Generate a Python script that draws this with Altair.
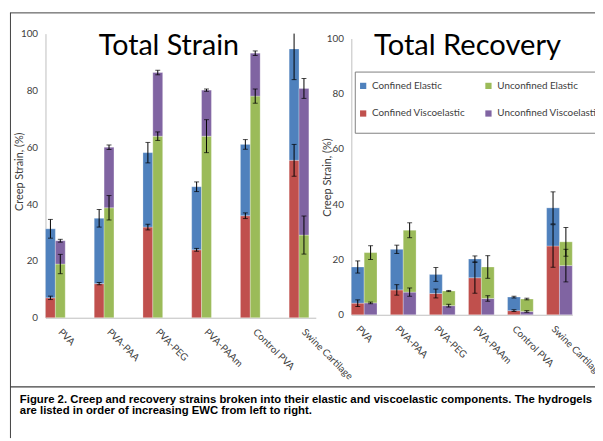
import altair as alt
import pandas as pd

categories = ["PVA", "PVA-PAA", "PVA-PEG", "PVA-PAAm", "Control PVA", "Swine Cartilage"]

# Total Strain panel (cumulative segment tops and error half-widths)
strain_conf_visco = [7.0, 12.0, 31.9, 23.9, 35.9, 55.4]
strain_conf_visco_err = [0.6, 0.4, 1.0, 0.5, 1.0, 5.6]
strain_conf_total = [31.3, 35.0, 58.1, 46.1, 61.0, 94.6]
strain_conf_total_err = [3.3, 3.1, 3.6, 1.7, 1.7, 10.8]
strain_unconf_elastic = [18.9, 38.7, 63.9, 63.9, 78.0, 29.1]
strain_unconf_elastic_err = [3.4, 4.3, 1.5, 5.8, 2.5, 6.7]
strain_unconf_total = [27.1, 60.0, 86.3, 80.1, 93.1, 80.7]
strain_unconf_total_err = [0.5, 0.8, 0.8, 0.4, 0.8, 3.5]

# Total Recovery panel
rec_conf_visco = [4.2, 9.0, 7.7, 13.4, 1.5, 24.9]
rec_conf_visco_err = [1.2, 1.9, 1.6, 5.6, 0.3, 7.7]
rec_conf_total = [17.3, 23.7, 14.6, 20.2, 6.4, 38.7]
rec_conf_total_err = [2.2, 1.5, 2.5, 1.1, 0.3, 5.8]
rec_unconf_visco = [4.3, 8.2, 3.3, 5.9, 1.2, 17.8]
rec_unconf_visco_err = [0.3, 1.5, 0.5, 1.0, 0.3, 5.9]
rec_unconf_total = [22.5, 30.6, 8.6, 17.3, 5.7, 26.4]
rec_unconf_total_err = [2.5, 2.7, 0.2, 4.1, 0.3, 5.2]

series_names = ["Confined Elastic", "Unconfined Elastic", "Confined Viscoelastic", "Unconfined Viscoelastic"]
series_colors = ["#4F81BD", "#9BBB59", "#C0504D", "#8064A2"]
groups = ["Confined", "Unconfined"]
y_ticks = [0, 20, 40, 60, 80, 100]

caption_lines = [
    "Figure 2. Creep and recovery strains broken into their elastic and viscoelastic components. The hydrogels",
    "are listed in order of increasing EWC from left to right.",
]


def build_rows(stacks):
    bars, errs, caps = [], [], []
    for grp, bottom_name, bottom, bottom_err, top_name, top, top_err in stacks:
        for i, c in enumerate(categories):
            for name, lo_v, hi_v, e in [
                (bottom_name, 0.0, bottom[i], bottom_err[i]),
                (top_name, bottom[i], top[i], top_err[i]),
            ]:
                bars.append({"cat": c, "grp": grp, "series": name, "y0": lo_v, "y1": hi_v})
                lo = hi_v - e
                hi = min(hi_v + e, 100.0)
                errs.append({"cat": c, "grp": grp, "lo": lo, "hi": hi})
                caps.append({"cat": c, "grp": grp, "v": lo})
                if hi_v + e <= 100.0:
                    caps.append({"cat": c, "grp": grp, "v": hi})
    return pd.DataFrame(bars), pd.DataFrame(errs), pd.DataFrame(caps)


strain_bars, strain_errs, strain_caps = build_rows([
    ("Confined", "Confined Viscoelastic", strain_conf_visco, strain_conf_visco_err,
     "Confined Elastic", strain_conf_total, strain_conf_total_err),
    ("Unconfined", "Unconfined Elastic", strain_unconf_elastic, strain_unconf_elastic_err,
     "Unconfined Viscoelastic", strain_unconf_total, strain_unconf_total_err),
])
rec_bars, rec_errs, rec_caps = build_rows([
    ("Confined", "Confined Viscoelastic", rec_conf_visco, rec_conf_visco_err,
     "Confined Elastic", rec_conf_total, rec_conf_total_err),
    ("Unconfined", "Unconfined Viscoelastic", rec_unconf_visco, rec_unconf_visco_err,
     "Unconfined Elastic", rec_unconf_total, rec_unconf_total_err),
])

FONT = "Lato"
LABEL_COLOR = "#404040"

color_enc = alt.Color(
    "series:N",
    sort=series_names,
    scale=alt.Scale(domain=series_names, range=series_colors),
    legend=alt.Legend(
        orient="none", legendX=355, legendY=71, columns=2, direction="horizontal",
        title=None, values=series_names,
        symbolType="square", symbolSize=40, symbolStrokeWidth=0,
        labelFont=FONT, labelFontSize=10, labelColor=LABEL_COLOR,
        rowPadding=18, columnPadding=18, labelLimit=300, padding=0,
        labelOffset=4,
    ),
)


def panel(bars, errs, caps, x_range, p_inner, p_outer, y_range, y_off, x_off, label_dx):
    x = alt.X(
        "cat:N", sort=categories,
        scale=alt.Scale(domain=categories, range=x_range, paddingInner=p_inner,
                        paddingOuter=p_outer, align=0),
        axis=alt.Axis(title=None, orient="bottom", offset=x_off, labelAngle=45,
                      ticks=False, domainColor="#bfbfbf", labelFont=FONT,
                      labelFontSize=10, labelColor=LABEL_COLOR, labelOffset=label_dx,
                      labelPadding=9, labelLimit=300),
    )
    xo = alt.XOffset("grp:N", sort=groups,
                     scale=alt.Scale(domain=groups, paddingInner=0, paddingOuter=0))
    yscale = alt.Scale(domain=[0, 100], range=y_range, nice=False, zero=True)
    yaxis = alt.Axis(title=None, orient="left", offset=y_off, values=y_ticks, grid=False,
                     ticks=False, domainColor="#bfbfbf", labelFont=FONT, labelFontSize=10,
                     labelColor=LABEL_COLOR, labelPadding=8)
    b = alt.Chart(bars).mark_bar(stroke="#ffffff", strokeOpacity=0.35, strokeWidth=0.8).encode(
        x=x, xOffset=xo,
        y=alt.Y("y0:Q", scale=yscale, axis=yaxis),
        y2="y1:Q",
        color=color_enc,
    )
    r = alt.Chart(errs).mark_rule(color="#000000", strokeWidth=1).encode(
        x=x, xOffset=xo, y=alt.Y("lo:Q", scale=yscale), y2="hi:Q"
    )
    t = alt.Chart(caps).mark_tick(color="#000000", size=5, thickness=1).encode(
        x=x, xOffset=xo, y=alt.Y("v:Q", scale=yscale)
    )
    return alt.layer(b, r, t)


left = panel(strain_bars, strain_errs, strain_caps, [38, 312], 0.595, 0.071,
             [311, 23], -38, -122, 8)
right = panel(rec_bars, rec_errs, rec_caps, [348, 572], 0.342, 0.0,
              [308, 28], -348, -125, -3)

dummy = pd.DataFrame({"a": [0]})

frame_top = alt.Chart(dummy).mark_rule(color="#404040", strokeWidth=1).encode(
    x=alt.value(2), x2=alt.value(595), y=alt.value(2))
frame_left = alt.Chart(dummy).mark_rule(color="#404040", strokeWidth=1).encode(
    x=alt.value(2.5), y=alt.value(2), y2=alt.value(433))
caption_top = alt.Chart(dummy).mark_rule(color="#404040", strokeWidth=1.2).encode(
    x=alt.value(2), x2=alt.value(595), y=alt.value(381))
legend_box = alt.Chart(dummy).mark_rect(fill=None, stroke="#7f7f7f", strokeWidth=1).encode(
    x=alt.value(352), x2=alt.value(640), y=alt.value(62), y2=alt.value(124))

title_strain = alt.Chart(pd.DataFrame({"t": ["Total Strain"]})).mark_text(
    font=FONT, fontSize=29, align="left", baseline="alphabetic", color="#000000").encode(
    x=alt.value(92), y=alt.value(45), text="t:N")
title_rec = alt.Chart(pd.DataFrame({"t": ["Total Recovery"]})).mark_text(
    font=FONT, fontSize=29.5, align="left", baseline="alphabetic", color="#000000").encode(
    x=alt.value(371), y=alt.value(45), text="t:N")

ytitle_left = alt.Chart(pd.DataFrame({"t": ["Creep Strain, (%)"]})).mark_text(
    font=FONT, fontSize=11, angle=270, align="center", baseline="middle", color=LABEL_COLOR).encode(
    x=alt.value(12), y=alt.value(163), text="t:N")
ytitle_right = alt.Chart(pd.DataFrame({"t": ["Creep Strain, (%)"]})).mark_text(
    font=FONT, fontSize=11, angle=270, align="center", baseline="middle", color=LABEL_COLOR).encode(
    x=alt.value(324), y=alt.value(169), text="t:N")

cap1 = alt.Chart(pd.DataFrame({"t": [caption_lines[0]]})).mark_text(
    font="Liberation Sans", fontWeight="bold", fontSize=11.5, align="left", baseline="middle",
    color="#000000").encode(x=alt.value(12), y=alt.value(394), text="t:N")
cap2 = alt.Chart(pd.DataFrame({"t": [caption_lines[1]]})).mark_text(
    font="Liberation Sans", fontWeight="bold", fontSize=11.5, align="left", baseline="middle",
    color="#000000").encode(x=alt.value(12), y=alt.value(406), text="t:N")

chart = alt.layer(
    left, right, frame_top, frame_left, caption_top, legend_box,
    title_strain, title_rec, ytitle_left, ytitle_right, cap1, cap2,
).resolve_scale(
    x="independent", y="independent", xOffset="independent"
).properties(
    width=595, height=433, autosize=alt.AutoSizeParams(type="none"), padding=0,
    background="#ffffff",
).configure_view(stroke=None)

chart.save("out.html", embed_options={"renderer": "svg", "actions": False})
